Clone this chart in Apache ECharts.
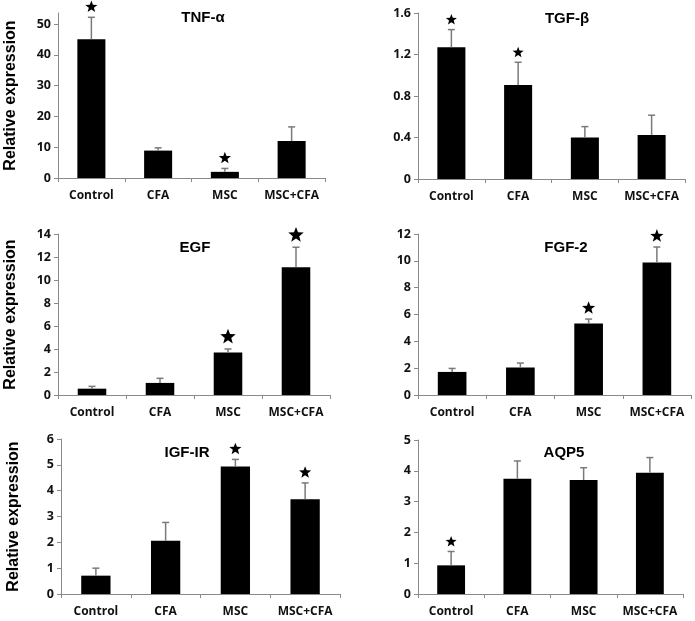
<!DOCTYPE html>
<html><head><meta charset="utf-8">
<script src="https://cdn.jsdelivr.net/npm/echarts@6/dist/echarts.min.js"></script>
<style>html,body{margin:0;padding:0;background:#fff}#c{width:695px;height:621px}</style>
</head><body><div id="c"></div>
<script>
// ---- data ----
const categories = ['Control', 'CFA', 'MSC', 'MSC+CFA'];

const tnfMean = [45.1, 8.9, 2.0, 12.0];
const tnfErr  = [7.1, 0.9, 1.1, 4.6];
const tnfSig  = [1, 0, 1, 0];
const tnfTicks = [0, 10, 20, 30, 40, 50];

const tgfMean = [1.27, 0.905, 0.40, 0.425];
const tgfErr  = [0.17, 0.22, 0.105, 0.19];
const tgfSig  = [1, 1, 0, 0];
const tgfTicks = [0, 0.4, 0.8, 1.2, 1.6];

const egfMean = [0.55, 1.05, 3.7, 11.1];
const egfErr  = [0.2, 0.4, 0.3, 1.75];
const egfSig  = [0, 0, 1, 1];
const egfTicks = [0, 2, 4, 6, 8, 10, 12, 14];

const fgfMean = [1.72, 2.05, 5.33, 9.88];
const fgfErr  = [0.26, 0.33, 0.33, 1.15];
const fgfSig  = [0, 0, 1, 1];
const fgfTicks = [0, 2, 4, 6, 8, 10, 12];

const igfMean = [0.71, 2.06, 4.94, 3.67];
const igfErr  = [0.29, 0.71, 0.27, 0.63];
const igfSig  = [0, 0, 1, 1];
const igfTicks = [0, 1, 2, 3, 4, 5, 6];

const aqpMean = [0.93, 3.74, 3.70, 3.94];
const aqpErr  = [0.45, 0.58, 0.40, 0.49];
const aqpSig  = [1, 0, 0, 0];
const aqpTicks = [0, 1, 2, 3, 4, 5];

const titles = ['TNF-α', 'TGF-β', 'EGF', 'FGF-2', 'IGF-IR', 'AQP5'];
const yName = 'Relative expression';

// ---- layout / style ----
const panels = [
  {mean: tnfMean, err: tnfErr, sig: tnfSig, ticks: tnfTicks, max: 53.6,
   grid: {left: 58, top: 13, width: 267, height: 165}, title: [198, 5], star: 11, yname: true},
  {mean: tgfMean, err: tgfErr, sig: tgfSig, ticks: tgfTicks, max: 1.6,
   grid: {left: 418, top: 13, width: 267, height: 166}, title: [562, 6], star: 10, yname: false},
  {mean: egfMean, err: egfErr, sig: egfSig, ticks: egfTicks, max: 14,
   grid: {left: 58, top: 234, width: 272, height: 161}, title: [190, 235], star: 14, yname: true},
  {mean: fgfMean, err: fgfErr, sig: fgfSig, ticks: fgfTicks, max: 12,
   grid: {left: 418, top: 234, width: 273, height: 161}, title: [561, 235], star: 12, yname: false},
  {mean: igfMean, err: igfErr, sig: igfSig, ticks: igfTicks, max: 6,
   grid: {left: 61, top: 439, width: 279, height: 155}, title: [182, 440], star: 11, yname: true},
  {mean: aqpMean, err: aqpErr, sig: aqpSig, ticks: aqpTicks, max: 5,
   grid: {left: 418, top: 440, width: 265, height: 154}, title: [559, 440], star: 10, yname: false}
];

const AXIS = '#8a8a8a';
const LABEL_FONT = '"Open Sans", Lato, sans-serif';
const TITLE_FONT = '"Liberation Sans", Arial, sans-serif';

function starPoints(cx, cy, R) {
  const pts = [];
  const r = R * 0.42;
  for (let i = 0; i < 10; i++) {
    const a = -Math.PI / 2 + i * Math.PI / 5;
    const rr = i % 2 === 0 ? R : r;
    pts.push([cx + rr * Math.cos(a), cy + rr * Math.sin(a)]);
  }
  return pts;
}

const option = {
  animation: false,
  backgroundColor: '#fff',
  title: [], grid: [], xAxis: [], yAxis: [], series: []
};

panels.forEach((p, i) => {
  option.title.push({
    text: titles[i], left: p.title[0], top: p.title[1], textAlign: 'center',
    textStyle: {fontFamily: TITLE_FONT, fontWeight: 'bold', fontSize: 15, color: '#000'}
  });
  option.grid.push(Object.assign({containLabel: false}, p.grid));
  option.xAxis.push({
    type: 'category', gridIndex: i, data: categories,
    axisLine: {lineStyle: {color: AXIS, width: 1}},
    axisTick: {show: true, length: 4, lineStyle: {color: AXIS}},
    axisLabel: {fontFamily: LABEL_FONT, fontWeight: 'bold', fontSize: 12, color: '#111', margin: 12, interval: 0}
  });
  option.yAxis.push({
    type: 'value', gridIndex: i, min: 0, max: p.max,
    name: p.yname ? yName : '', nameLocation: 'middle', nameRotate: 90, nameGap: 39,
    nameTextStyle: {fontFamily: TITLE_FONT, fontWeight: 'bold', fontSize: 16, color: '#000'},
    splitLine: {show: false},
    axisLine: {show: true, lineStyle: {color: AXIS, width: 1}},
    axisTick: {show: true, length: 4, lineStyle: {color: AXIS}, customValues: p.ticks},
    axisLabel: {fontFamily: LABEL_FONT, fontWeight: 'bold', fontSize: 12.5, color: '#111', margin: 7,
      customValues: p.ticks, formatter: v => String(v)}
  });
  option.series.push({
    type: 'bar', xAxisIndex: i, yAxisIndex: i, data: p.mean,
    barWidth: '42%', itemStyle: {color: '#000'}, silent: true
  });
  option.series.push({
    type: 'custom', xAxisIndex: i, yAxisIndex: i, silent: true, z: 5,
    data: p.mean.map((m, k) => [k, m, p.err[k]]),
    renderItem: function (params, api) {
      const k = api.value(0), m = api.value(1), e = api.value(2);
      const a = api.coord([k, m]), b = api.coord([k, m + e]);
      const st = {stroke: '#7a7a7a', lineWidth: 1.5};
      return {type: 'group', children: [
        {type: 'line', shape: {x1: a[0], y1: a[1], x2: b[0], y2: b[1]}, style: st},
        {type: 'line', shape: {x1: b[0] - 3.5, y1: b[1], x2: b[0] + 3.5, y2: b[1]}, style: st}
      ]};
    }
  });
  const sz = p.star;
  option.series.push({
    type: 'custom', xAxisIndex: i, yAxisIndex: i, silent: true, z: 6,
    data: p.mean.map((m, k) => [k, m + p.err[k], p.sig[k]]).filter(d => d[2]),
    renderItem: function (params, api) {
      const c = api.coord([api.value(0), api.value(1)]);
      const R = sz * 0.58;
      return {type: 'polygon', shape: {points: starPoints(c[0], c[1] - R - 4, R)}, style: {fill: '#000'}};
    }
  });
});

const chart = echarts.init(document.getElementById('c'), null, {renderer: 'canvas'});
chart.setOption(option);
</script></body></html>
